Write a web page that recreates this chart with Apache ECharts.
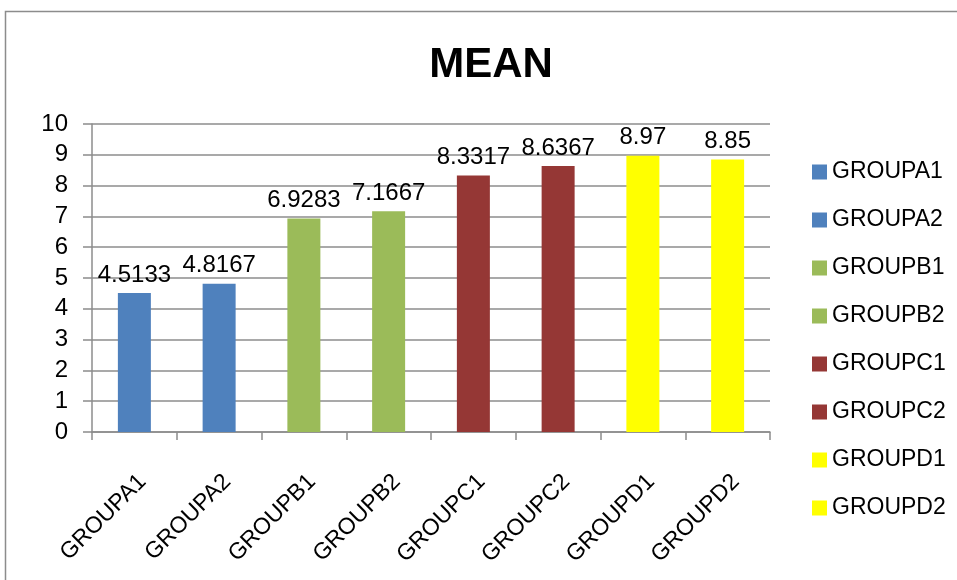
<!DOCTYPE html>
<html>
<head>
<meta charset="utf-8">
<script src="https://cdn.jsdelivr.net/npm/echarts@6/dist/echarts.min.js"></script>
<style>
  html, body { margin: 0; padding: 0; background: #fff; }
  #chart { width: 957px; height: 580px; }
</style>
</head>
<body>
<div id="chart"></div>
<script>
var categories = ['GROUPA1', 'GROUPA2', 'GROUPB1', 'GROUPB2', 'GROUPC1', 'GROUPC2', 'GROUPD1', 'GROUPD2'];
var meanValues = [4.5133, 4.8167, 6.9283, 7.1667, 8.3317, 8.6367, 8.97, 8.85];
var barColors = ['#4F81BD', '#4F81BD', '#9BBB59', '#9BBB59', '#953735', '#953735', '#FFFF00', '#FFFF00'];
var yTicks = [0, 1, 2, 3, 4, 5, 6, 7, 8, 9, 10];

var font = '"Liberation Sans", Arial, sans-serif';

// one series per group so each gets its own legend entry; stacked so the bar sits centred
var series = categories.map(function (name, i) {
  var data = categories.map(function (c, j) { return j === i ? meanValues[i] : '-'; });
  return {
    name: name,
    type: 'bar',
    stack: 'all',
    barWidth: 33,
    data: data,
    itemStyle: { color: barColors[i] },
    label: {
      show: true,
      position: 'top',
      distance: 6,
      color: '#000',
      fontFamily: font,
      fontSize: 24,
      formatter: function (p) { return String(meanValues[i]); }
    }
  };
});

var chart = echarts.init(document.getElementById('chart'));
chart.setOption({
  animation: false,
  graphic: [{
    type: 'rect',
    shape: { x: 5.5, y: 11.5, width: 1000, height: 1000 },
    style: { fill: 'none', stroke: '#8c8c8c', lineWidth: 1.5 },
    silent: true
  }],
  title: {
    text: 'MEAN',
    left: 486,
    textAlign: 'center',
    top: 39,
    textStyle: { fontFamily: font, fontSize: 42, fontWeight: 'bold', color: '#000' }
  },
  legend: {
    orient: 'vertical',
    left: 812,
    top: 160,
    padding: 0,
    icon: 'rect',
    itemWidth: 15,
    itemHeight: 15,
    itemGap: 24,
    data: categories,
    textStyle: { fontFamily: font, fontSize: 23, color: '#000', lineHeight: 24 }
  },
  grid: { left: 92, right: 187, top: 124, bottom: 148 },
  xAxis: {
    type: 'category',
    data: categories,
    axisLine: { lineStyle: { color: '#8c8c8c', width: 1.5 } },
    axisTick: { show: true, length: 8, alignWithLabel: false, lineStyle: { color: '#8c8c8c', width: 1.5 } },
    axisLabel: {
      rotate: 45,
      margin: 38,
      verticalAlign: 'top',
      interval: 0,
      color: '#000',
      fontFamily: font,
      fontSize: 23
    }
  },
  yAxis: {
    type: 'value',
    min: yTicks[0],
    max: yTicks[yTicks.length - 1],
    interval: 1,
    axisLine: { show: true, lineStyle: { color: '#8c8c8c', width: 1.5 } },
    axisTick: { show: true, length: 9, lineStyle: { color: '#8c8c8c', width: 1.5 } },
    splitLine: { show: true, lineStyle: { color: '#8c8c8c', width: 1.5 } },
    axisLabel: { margin: 24, color: '#000', fontFamily: font, fontSize: 24 }
  },
  series: series
});
</script>
</body>
</html>
